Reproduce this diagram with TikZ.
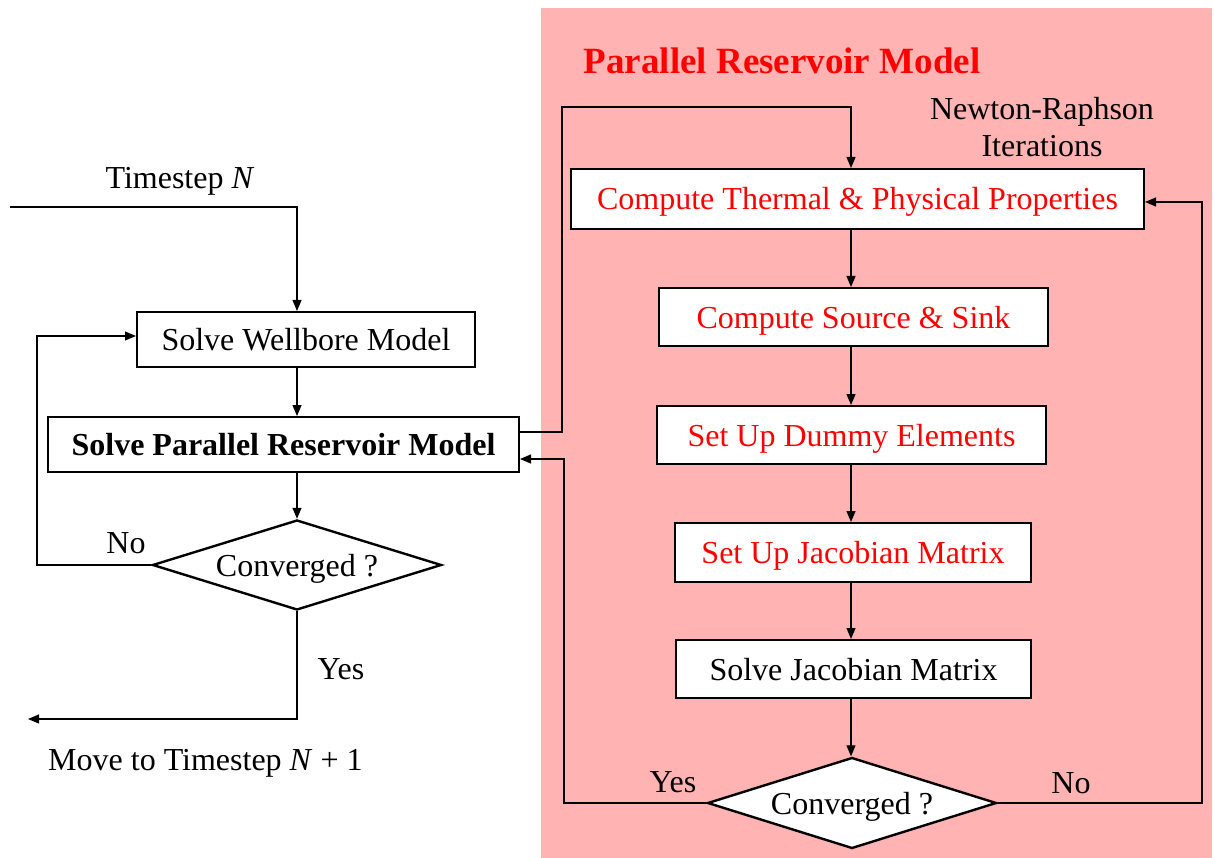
\documentclass[tikz,border=0pt]{standalone}
\usepackage{fontspec}
\setmainfont{Liberation Serif}
\usetikzlibrary{shapes.geometric,arrows.meta,calc}
\definecolor{pinkbg}{RGB}{255,179,179}
\definecolor{redtxt}{RGB}{255,0,0}
\begin{document}
\begin{tikzpicture}[x=1pt,y=-1pt,
  txt/.style={font=\fontsize{32}{38}\selectfont, inner sep=0pt},
  box/.style={txt, draw=black, line width=2pt, fill=white, rectangle, text height=22pt, text depth=0pt},
  dec/.style={txt, draw=black, line width=2.4pt, fill=white, diamond, aspect=3.2, text height=22pt, text depth=0pt},
  arr/.style={line width=1.2pt, -{Triangle[length=11pt,width=9pt]}},
  ln/.style={line width=1.2pt}]
\useasboundingbox (0,0) rectangle (1214,858);
\fill[pinkbg] (541,8) rectangle (1212,858);

% left part
\node[txt] (tsN) at (180,181) {Timestep \textit{N}};
\coordinate (ts) at (10,207);
\node[box, minimum width=338pt, minimum height=55pt] (wb) at (306,339.5) {Solve Wellbore Model};
\node[box, minimum width=471pt, minimum height=55pt, font=\fontsize{32}{38}\selectfont\bfseries] (pr) at (283.5,444.5) {Solve Parallel Reservoir Model};
\node[dec, minimum width=289pt, minimum height=90pt] (d1) at (297,565) {Converged ?};
\node[txt] (no1) at (126,543) {No};
\node[txt] (yes1) at (341,669) {Yes};
\coordinate (mv) at (28,719);
\node[txt, anchor=west] (mvt) at (48,763) {Move to Timestep \textit{N}~+~1};

\draw[arr] (ts) -| ([xshift=-9pt]wb.north);
\draw[arr] ([xshift=-9pt]wb.south) -- ([xshift=-9pt]wb.south |- pr.north);
\draw[arr] (pr.south -| d1.north) -- (d1.north);
\coordinate (nl) at (37,565);
\draw[arr] (d1.west) -- (nl) |- ([yshift=3.5pt]wb.west);
\draw[arr] (d1.south) |- (mv);

% right part
\node[txt, text=redtxt, font=\fontsize{37}{44}\selectfont\bfseries] (title) at (782,61) {Parallel Reservoir Model};
\node[txt, align=center, font=\fontsize{32}{37}\selectfont] (nr) at (1042,127) {Newton-Raphson\\Iterations};
\node[box, text=redtxt, minimum width=573pt, minimum height=60pt] (th) at (857.5,199) {Compute Thermal \& Physical Properties};
\node[box, text=redtxt, minimum width=389pt, minimum height=58pt] (src) at (853.5,317) {Compute Source \& Sink};
\node[box, text=redtxt, minimum width=389pt, minimum height=58pt] (dum) at (851.5,435) {Set Up Dummy Elements};
\node[box, text=redtxt, minimum width=356pt, minimum height=59pt] (jac) at (853,552.5) {Set Up Jacobian Matrix};
\node[box, minimum width=355pt, minimum height=58pt] (sol) at (853.5,669) {Solve Jacobian Matrix};
\node[dec, minimum width=289pt, minimum height=91pt] (d2) at (852,803) {Converged ?};
\node[txt] (yes2) at (673,782) {Yes};
\node[txt] (no2) at (1071,783) {No};

\coordinate (col) at (851,0);
\coordinate (lt) at (562,107);
\coordinate (yr) at (564,459);
\coordinate (nrr) at (1202,202);
\draw[arr] ([yshift=12.5pt]pr.east) -| (lt) -| (col |- th.north);
\draw[arr] (col |- th.south) -- (col |- src.north);
\draw[arr] (col |- src.south) -- (col |- dum.north);
\draw[arr] (col |- dum.south) -- (col |- jac.north);
\draw[arr] (col |- jac.south) -- (col |- sol.north);
\draw[arr] (col |- sol.south) -- (col |- d2.north);
\draw[arr] (d2.west) -| (yr) -- (yr -| pr.east);
\draw[arr] (d2.east) -| (nrr) -- (nrr -| th.east);
\end{tikzpicture}
\end{document}
